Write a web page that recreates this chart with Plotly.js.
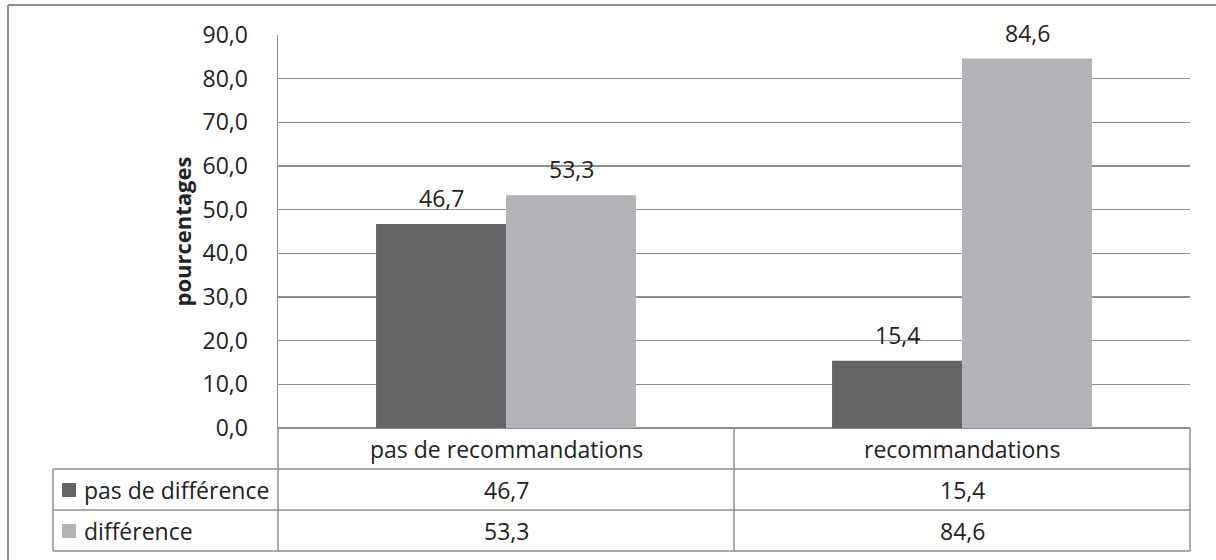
<!DOCTYPE html>
<html>
<head>
<meta charset="utf-8">
<script src="https://cdn.plot.ly/plotly-3.0.1.min.js"></script>
<style>html,body{margin:0;padding:0;background:#fff;}#chart{width:1216px;height:560px;}</style>
</head>
<body>
<div id="chart"></div>
<script>
const categories = ["pas de recommandations", "recommandations"];
const seriesNames = ["pas de différence", "différence"];
const valuesPasDeDifference = [46.7, 15.4];
const valuesDifference = [53.3, 84.6];
const yTickValues = [0, 10, 20, 30, 40, 50, 60, 70, 80, 90];
const yAxisTitle = "pourcentages";

const colors = ["#646466", "#b2b3b6"];
const lineColor = "#8e8e8e";
const textColor = "#222222";
const FONT = "Open Sans, Noto Sans, sans-serif";
const FS = 23;

// pixel helpers (plot area: x 278..1190, y 35..428)
const L = 278, R = 1190, T = 35, B = 428;
const xp = px => (px - L) / (R - L);
const yp = py => (B - py) / (B - T);
const fmt = v => v.toFixed(1).replace('.', ',');

const series = [valuesPasDeDifference, valuesDifference];
const traces = series.map((vals, i) => ({
  type: 'bar',
  name: seriesNames[i],
  x: categories,
  y: vals,
  marker: {color: colors[i], line: {width: 0}},
  hoverinfo: 'x+y+name'
}));

const shapes = [];
const annotations = [];
function hline(y, x0, x1, w) {
  shapes.push({type: 'line', xref: 'paper', yref: 'paper', x0: xp(x0), x1: xp(x1), y0: yp(y), y1: yp(y), line: {color: lineColor, width: w || 1.5}});
}
function vline(x, y0, y1, w) {
  shapes.push({type: 'line', xref: 'paper', yref: 'paper', x0: xp(x), x1: xp(x), y0: yp(y0), y1: yp(y1), line: {color: lineColor, width: w || 1.5}});
}
// outer chart frame (top + left visible)
hline(5, 8, 1216, 2);
vline(8, 5, 560, 2);

// data table
const colMid = (L + R) / 2;
vline(L, B, 551);
vline(colMid, B, 551);
vline(R, B, 551);
vline(53, 469, 551);
hline(469, 53, R);
hline(510, 53, R);
hline(551, 53, R);

const rowCenters = [490, 531];
const colCenters = [(L + colMid) / 2, (colMid + R) / 2];
categories.forEach((c, j) => {
  annotations.push({xref: 'paper', yref: 'paper', x: xp(colCenters[j]), y: yp(449), text: c, showarrow: false, xanchor: 'center', yanchor: 'middle', font: {size: FS, color: textColor, family: FONT}});
});
series.forEach((vals, i) => {
  // legend key
  const cy = rowCenters[i];
  shapes.push({type: 'rect', xref: 'paper', yref: 'paper', x0: xp(62), x1: xp(76), y0: yp(cy - 7), y1: yp(cy + 7), fillcolor: colors[i], line: {width: 0}});
  annotations.push({xref: 'paper', yref: 'paper', x: xp(82), y: yp(cy), text: seriesNames[i], showarrow: false, xanchor: 'left', yanchor: 'middle', font: {size: FS, color: textColor, family: FONT}});
  vals.forEach((v, j) => {
    annotations.push({xref: 'paper', yref: 'paper', x: xp(colCenters[j]), y: yp(cy), text: fmt(v), showarrow: false, xanchor: 'center', yanchor: 'middle', font: {size: FS, color: textColor, family: FONT}});
    // data labels above bars
    annotations.push({xref: 'x', yref: 'y', x: categories[j], y: v, xshift: i === 0 ? -65 : 65, yshift: 26, text: fmt(v), showarrow: false, xanchor: 'center', yanchor: 'middle', font: {size: FS, color: textColor, family: FONT}});
  });
});

// y axis title
annotations.push({xref: 'paper', yref: 'paper', x: xp(181), y: 0.5, text: '<b>' + yAxisTitle + '</b>', textangle: -90, showarrow: false, xanchor: 'center', yanchor: 'middle', font: {size: 22, color: textColor, family: FONT}});

const layout = {
  width: 1216, height: 560,
  margin: {l: L, r: 1216 - R, t: T, b: 560 - B},
  paper_bgcolor: '#ffffff', plot_bgcolor: '#ffffff',
  separators: ', ',
  barmode: 'group',
  bargap: 0.43,
  bargroupgap: 0,
  showlegend: false,
  font: {family: FONT, color: textColor, size: FS},
  xaxis: {type: 'category', showticklabels: false, ticks: '', showgrid: false, zeroline: false, showline: false, fixedrange: true},
  yaxis: {range: [0, 90], tickvals: yTickValues, tickformat: '.1f', showgrid: true, gridcolor: lineColor, gridwidth: 1.5,
          zeroline: true, zerolinecolor: lineColor, zerolinewidth: 1.5,
          showline: true, linecolor: lineColor, linewidth: 1.5,
          ticks: 'outside', ticklen: 24, tickcolor: 'rgba(0,0,0,0)',
          tickfont: {size: FS, color: textColor, family: FONT}, fixedrange: true},
  shapes: shapes,
  annotations: annotations
};

Plotly.newPlot('chart', traces, layout, {displayModeBar: false, staticPlot: true});
</script>
</body>
</html>
